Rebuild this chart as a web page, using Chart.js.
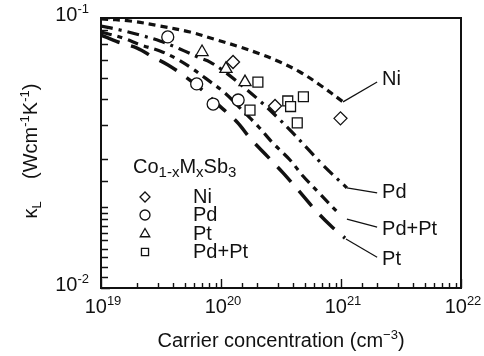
<!DOCTYPE html>
<html>
<head>
<meta charset="utf-8">
<script src="https://cdn.jsdelivr.net/npm/chart.js@4.4.0/dist/chart.umd.min.js"></script>
<style>
  html, body { margin: 0; padding: 0; background: #fff; }
</style>
</head>
<body>
<canvas id="kappaChart" width="484" height="356"></canvas>
<script>
var FONT = '"Liberation Sans", Arial, Helvetica, sans-serif';
var INK = '#111';

// measured kappa_L of Co1-xMxSb3 samples
var niX = [1.26e20, 2.82e20, 9.9e20];
var niY = [0.0687, 0.0472, 0.0425];
var pdX = [3.6e19, 6.27e19, 8.6e19, 1.39e20];
var pdY = [0.0851, 0.0570, 0.0480, 0.0497];
var ptX = [6.95e19, 1.10e20, 1.585e20];
var ptY = [0.0748, 0.0648, 0.0579];
var pdptX = [2.03e20, 1.745e20, 3.6e20, 3.8e20, 4.86e20, 4.32e20];
var pdptY = [0.0579, 0.0456, 0.0493, 0.0470, 0.0511, 0.0409];

// calculated curves
var niCurveX = [1.0e19, 1.745e19, 3.10e19, 5.52e19, 9.26e19, 1.44e20, 2.11e20, 3.10e20, 4.55e20, 6.68e20, 1.04e21];
var niCurveY = [0.0992, 0.0975, 0.0934, 0.0887, 0.0829, 0.0781, 0.0736, 0.0687, 0.0631, 0.0565, 0.0489];
var pdCurveX = [1.0e19, 1.44e19, 2.11e19, 3.10e19, 4.55e19, 6.68e19, 8.1e19, 1.08e20, 1.585e20, 2.11e20, 2.93e20, 3.91e20, 5.41e20, 7.5e20, 1.12e21];
var pdCurveY = [0.0934, 0.0903, 0.0865, 0.0822, 0.0768, 0.0711, 0.0687, 0.0631, 0.0550, 0.0493, 0.0430, 0.0378, 0.0324, 0.0278, 0.0235];
var pdptCurveX = [1.0e19, 1.525e19, 2.15e19, 3.10e19, 4.14e19, 5.52e19, 7.36e19, 1.08e20, 1.525e20, 2.03e20, 2.71e20, 3.76e20, 4.82e20, 6.68e20, 9.44e20];
var pdptCurveY = [0.0887, 0.0843, 0.0794, 0.0755, 0.0711, 0.0658, 0.0600, 0.0527, 0.0452, 0.0398, 0.0344, 0.0298, 0.0260, 0.0223, 0.0190];
var ptCurveX = [1.0e19, 1.386e19, 2.0e19, 2.71e19, 3.62e19, 4.82e19, 6.68e19, 8.91e19, 1.36e20, 1.745e20, 2.46e20, 3.29e20, 4.38e20, 6.07e20, 8.1e20, 1.08e21];
var ptCurveY = [0.0865, 0.0815, 0.0774, 0.0717, 0.0670, 0.0615, 0.0550, 0.0489, 0.0412, 0.0359, 0.0306, 0.0267, 0.0231, 0.0195, 0.0171, 0.0153];

// leader lines from curve ends to the curve names
var curveNames = ['Ni', 'Pd', 'Pd+Pt', 'Pt'];
var leaderX0 = [1.04e21, 1.12e21, 1.12e21, 1.10e21];
var leaderY0 = [0.0489, 0.0235, 0.0180, 0.0152];
var leaderX1 = [2.0e21, 2.0e21, 2.0e21, 2.0e21];
var leaderY1 = [0.0579, 0.0225, 0.0168, 0.0130];
var nameY = [0.0590, 0.0225, 0.0165, 0.0127];

var xTickLabels = ['19', '20', '21', '22'];
var yTickLabels = ['-2', '-1'];

function pts(xs, ys) {
    return xs.map(function (x, i) { return { x: x, y: ys[i] }; });
}

function isDecade(v) {
    var l = Math.log10(v);
    return Math.abs(l - Math.round(l)) < 1e-6;
}

// parts: [text, 0 normal | 1 superscript | -1 subscript]
function drawRich(ctx, parts, x, y, align, big, small) {
    var w = 0;
    parts.forEach(function (p) {
        ctx.font = (p[1] ? small : big) + 'px ' + FONT;
        w += ctx.measureText(p[0]).width;
    });
    var cx = align === 'center' ? x - w / 2 : (align === 'right' ? x - w : x);
    ctx.textAlign = 'left';
    ctx.textBaseline = 'middle';
    parts.forEach(function (p) {
        ctx.font = (p[1] ? small : big) + 'px ' + FONT;
        var dy = p[1] === 1 ? -6 : (p[1] === -1 ? 6 : 0);
        ctx.fillText(p[0], cx, y + dy);
        cx += ctx.measureText(p[0]).width;
    });
}

function marker(ctx, style, r, x, y) {
    ctx.fillStyle = '#fff';
    ctx.strokeStyle = INK;
    ctx.lineWidth = 1.3;
    Chart.helpers.drawPoint(ctx, { pointStyle: style, radius: r, borderWidth: 1.3, rotation: 0 }, x, y);
}

var decor = {
    id: 'decor',
    afterDraw: function (chart) {
        var ctx = chart.ctx, a = chart.chartArea;
        var sx = chart.scales.x, sy = chart.scales.y;
        ctx.save();
        ctx.strokeStyle = INK;
        ctx.fillStyle = INK;

        // frame
        ctx.lineWidth = 2;
        ctx.strokeRect(a.left, a.top, a.right - a.left, a.bottom - a.top);

        // inner ticks
        ctx.lineWidth = 1.4;
        ctx.beginPath();
        sx.ticks.forEach(function (t) {
            var px = Math.round(sx.getPixelForValue(t.value)) + 0.5;
            var len = isDecade(t.value) ? 9 : 5;
            ctx.moveTo(px, a.bottom);
            ctx.lineTo(px, a.bottom - len);
        });
        sy.ticks.forEach(function (t) {
            var py = Math.round(sy.getPixelForValue(t.value)) + 0.5;
            var len = isDecade(t.value) ? 9 : 7;
            ctx.moveTo(a.left, py);
            ctx.lineTo(a.left + len, py);
        });
        ctx.stroke();

        // tick labels
        ctx.fillStyle = INK;
        xTickLabels.forEach(function (e) {
            var px = sx.getPixelForValue(Math.pow(10, +e));
            drawRich(ctx, [['10', 0], [e, 1]], px + 2, a.bottom + 19, 'center', 20, 13);
        });
        yTickLabels.forEach(function (e) {
            var py = sy.getPixelForValue(Math.pow(10, +e));
            drawRich(ctx, [['10', 0], [e, 1]], a.left - 12, py - 3, 'right', 20, 13);
        });

        // axis titles
        drawRich(ctx, [['Carrier concentration (cm', 0], ['\u22123', 1], [')', 0]],
            (a.left + a.right) / 2, 341, 'center', 20, 13);
        ctx.save();
        ctx.translate(31, 151);
        ctx.rotate(-Math.PI / 2);
        drawRich(ctx, [['\u03ba', 0], ['L', -1], ['    (Wcm', 0], ['-1', 1], ['K', 0], ['-1', 1], [')', 0]],
            0, 0, 'center', 20, 13);
        ctx.restore();

        // curve names
        curveNames.forEach(function (n, i) {
            var px = sx.getPixelForValue(leaderX1[i]) + 5;
            var py = sy.getPixelForValue(nameY[i]);
            drawRich(ctx, [[n, 0]], px, py, 'left', 20, 13);
        });

        // key
        var kx = a.left + 32, ky = a.top + 149;
        drawRich(ctx, [['Co', 0], ['1-x', -1], ['M', 0], ['x', -1], ['Sb', 0], ['3', -1]], kx, ky, 'left', 20, 15);
        var keyStyles = ['rectRot', 'circle', 'triangle', 'rect'];
        var keyR = [5, 5, 5.5, 5];
        var keyDy = [30, 48, 67, 85];
        var keyText = ['Ni', 'Pd', 'Pt', 'Pd+Pt'];
        keyStyles.forEach(function (s, i) {
            marker(ctx, s, keyR[i], kx + 12, ky + keyDy[i]);
            ctx.fillStyle = INK;
            drawRich(ctx, [[keyText[i], 0]], kx + 60, ky + keyDy[i], 'left', 20, 13);
        });
        ctx.restore();
    }
};

function curve(xs, ys, dash, width) {
    return {
        data: pts(xs, ys),
        showLine: true,
        pointRadius: 0,
        borderColor: INK,
        borderWidth: width,
        borderDash: dash,
        tension: 0.35
    };
}

function leader(i) {
    return {
        data: [{ x: leaderX0[i], y: leaderY0[i] }, { x: leaderX1[i], y: leaderY1[i] }],
        showLine: true,
        pointRadius: 0,
        borderColor: INK,
        borderWidth: 1.2
    };
}

function points(xs, ys, style, r) {
    return {
        data: pts(xs, ys),
        showLine: false,
        pointStyle: style,
        pointRadius: r,
        pointBorderWidth: 1.3,
        pointBorderColor: INK,
        pointBackgroundColor: '#fff'
    };
}

new Chart(document.getElementById('kappaChart'), {
    type: 'scatter',
    data: {
        datasets: [
            points(niX, niY, 'rectRot', 6.5),
            points(pdX, pdY, 'circle', 6),
            points(ptX, ptY, 'triangle', 7),
            points(pdptX, pdptY, 'rect', 7),
            curve(niCurveX, niCurveY, [7, 5], 3.2),
            curve(pdCurveX, pdCurveY, [12, 6, 3, 6], 3.2),
            curve(pdptCurveX, pdptCurveY, [11, 6, 5, 6], 3.2),
            curve(ptCurveX, ptCurveY, [20, 12], 3.5),
            leader(0), leader(1), leader(2), leader(3)
        ]
    },
    options: {
        responsive: false,
        animation: false,
        layout: { padding: { top: 18, right: 23, left: 0, bottom: 0 } },
        plugins: { legend: { display: false }, tooltip: { enabled: false } },
        scales: {
            x: {
                type: 'logarithmic',
                min: 1e19,
                max: 1e22,
                grid: { display: false },
                border: { display: false },
                ticks: { display: false },
                afterFit: function (s) { s.height = 68; }
            },
            y: {
                type: 'logarithmic',
                min: 0.01,
                max: 0.1,
                grid: { display: false },
                border: { display: false },
                ticks: { display: false },
                afterFit: function (s) { s.width = 101; }
            }
        }
    },
    plugins: [decor]
});
</script>
</body>
</html>
